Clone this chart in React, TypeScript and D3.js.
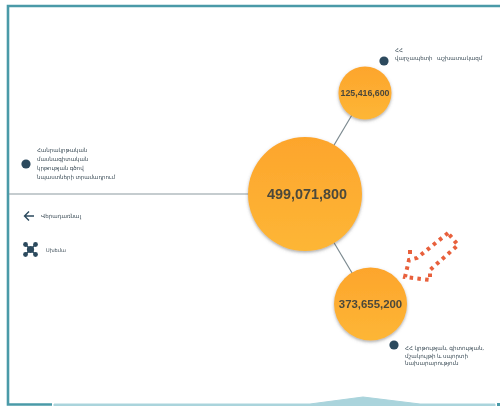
import React from "react";
import * as d3 from "d3";

const nodeValues = [499071800, 125416600, 373655200];
const nodeAngles = [0, -59.3, 59.2];
const nodeDistances = [0, 117.5, 128];
const radiusStops = [26.5, 36.5, 57];
const radiusDomain = [125416600, 373655200, 499071800];
const dotLabels = [
  ["ՀՀ", "վարչապետի   աշխատակազմ"],
  ["ՀՀ կրթության, գիտության,", "մշակույթի և սպորտի", "նախարարություն"],
  ["Հանրակրթական", "մասնագիտական", "կրթության գծով", "նպաստների տրամադրում"],
];
const menuLabels = ["Վերադառնալ", "Սխեմա"];

const W = 500, H = 406;
const cx = 305, cy = 194;
const rScale = d3.scaleLinear().domain(radiusDomain).range(radiusStops);
const fmt = d3.format(",");
const ink = "#2c4a5e";
const nodes = nodeValues.map((v, i) => {
  const a = (nodeAngles[i] * Math.PI) / 180;
  return { v, r: rScale(v), x: cx + nodeDistances[i] * Math.cos(a), y: cy + nodeDistances[i] * Math.sin(a) };
});
const labelPos = [
  { dx: 384, dy: 61, tx: 395, ty: [52, 60] },
  { dx: 394, dy: 345, tx: 405, ty: [350, 357.5, 364.5] },
  { dx: 26, dy: 164, tx: 37, ty: [152, 161, 170, 179] },
];
const fontSizes = [5.5, 5.6, 5.5];
const numberSizes = [14.4, 8.8, 11.4];
const numberShift = [2, 0, 0];

export default function App() {
  const pathFrame = d3.path();
  pathFrame.moveTo(52, 404.5);
  pathFrame.lineTo(8, 404.5);
  pathFrame.lineTo(8, 6);
  pathFrame.lineTo(500, 6);
  const dashPts: [number, number][] = [[448, 233], [417, 258], [409, 260], [405, 277], [430, 280], [430, 270], [458, 245], [448, 233]];
  const wave = d3.line()([[54, 404], [310, 404], [363, 397], [420, 404], [495, 404]]) as string;
  return (
    <svg width={W} height={H} style={{ position: "fixed", left: 0, top: 0, background: "#fff" }}>
      <defs>
        <linearGradient id="g" x1="0" y1="0" x2="0" y2="1">
          <stop offset="0" stopColor="#fda52c" />
          <stop offset="1" stopColor="#fdb636" />
        </linearGradient>
        <filter id="s" x="-20%" y="-20%" width="140%" height="140%">
          <feDropShadow dx="0" dy="1.5" stdDeviation="1.5" floodColor="#555" floodOpacity="0.5" />
        </filter>
        <filter id="b" x="-5%" y="-20%" width="110%" height="140%">
          <feGaussianBlur stdDeviation="0.3" />
        </filter>
      </defs>
      <path d={pathFrame.toString()} fill="none" stroke="#4a9aa8" strokeWidth={2.6} />
      <path d={wave + "L495,406L54,406Z"} fill="#aad4dc" stroke="#aad4dc" />
      <rect x={497} y={403} width={3} height={3} fill="#4a9aa8" />

      <line x1={9} y1={194} x2={cx} y2={194} stroke="#8c9aa0" strokeWidth={1.2} />
      {nodes.slice(1).map((n, i) => (
        <line key={i} x1={cx} y1={cy} x2={n.x} y2={n.y} stroke="#7c8a90" strokeWidth={1.2} />
      ))}
      {nodes.map((n, i) => (
        <g key={i}>
          <circle cx={n.x} cy={n.y} r={n.r} fill="url(#g)" filter="url(#s)" />
          <text x={n.x + numberShift[i]} y={n.y} dy="0.35em" textAnchor="middle" fontFamily="Liberation Sans, Arial, sans-serif"
            fontWeight="bold" fontSize={numberSizes[i]} fill="#4c483a" filter="url(#b)">
            {fmt(n.v)}
          </text>
        </g>
      ))}
      {dotLabels.map((lines, i) => (
        <g key={i}>
          <circle cx={labelPos[i].dx} cy={labelPos[i].dy} r={4.6} fill={ink} />
          {lines.map((t, j) => (
            <text key={j} x={labelPos[i].tx} y={labelPos[i].ty[j]} fontFamily="Noto Sans, DejaVu Sans, sans-serif"
              fontSize={fontSizes[i]} fill="#3a4a55" filter="url(#b)" xmlSpace="preserve">
              {t}
            </text>
          ))}
        </g>
      ))}
      <g stroke={ink} strokeWidth={1.4} fill="none">
        <path d="M34,216H24.5M29,211.5L24.5,216L29,220.5" />
      </g>
      <g>
        <g stroke={ink} strokeWidth={1.6}>
          <line x1={25.5} y1={244.5} x2={35.5} y2={254.5} />
          <line x1={35.5} y1={244.5} x2={25.5} y2={254.5} />
        </g>
        <circle cx={30.5} cy={249.5} r={3.6} fill={ink} />
        {[[25.5, 244.5], [35.5, 244.5], [25.5, 254.5], [35.5, 254.5]].map(([x, y], i) => (
          <circle key={i} cx={x} cy={y} r={2.4} fill={ink} />
        ))}
      </g>
      <text x={41} y={218} fontFamily="Noto Sans, DejaVu Sans, sans-serif" fontSize={5.6} fill="#3a4a55" filter="url(#b)">{menuLabels[0]}</text>
      <text x={46} y={252} fontFamily="Noto Sans, DejaVu Sans, sans-serif" fontSize={5} fill="#3a4a55" filter="url(#b)">{menuLabels[1]}</text>
      <polyline points={dashPts.map((p) => p.join(",")).join(" ")} fill="none" stroke="#e8603c" strokeWidth={4} strokeDasharray="3.5 4.3" />
      <rect x={408} y={250} width={4} height={4} fill="#e8603c" />
    </svg>
  );
}
